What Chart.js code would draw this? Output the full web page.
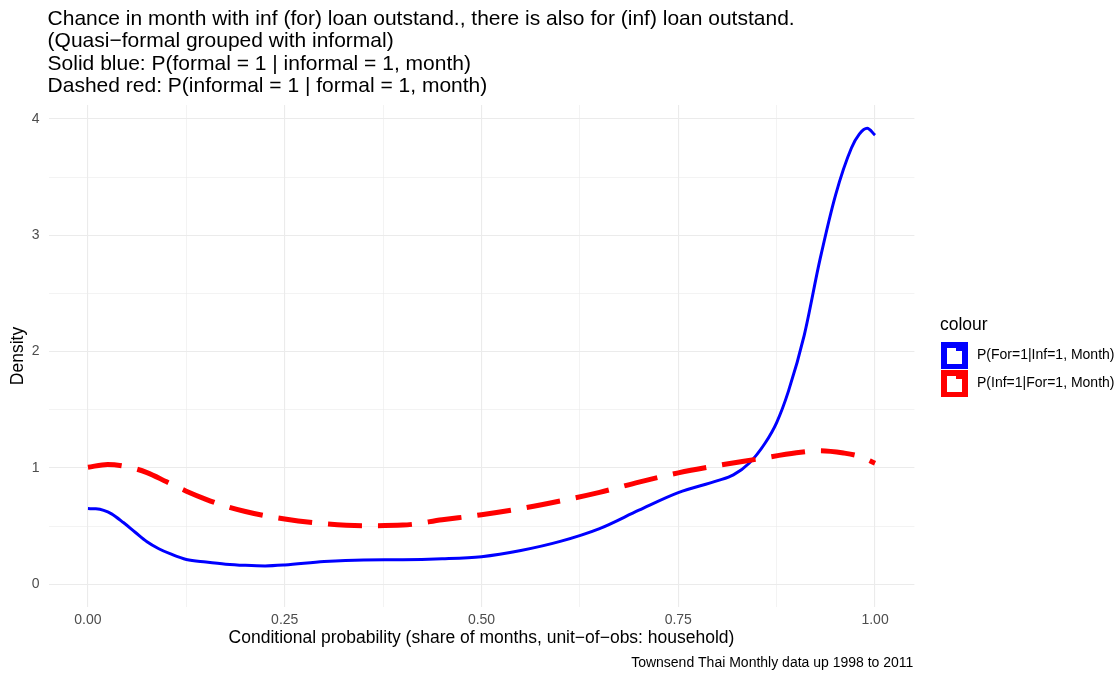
<!DOCTYPE html>
<html>
<head>
<meta charset="utf-8">
<script src="https://cdn.jsdelivr.net/npm/chart.js@4.4.1/dist/chart.umd.min.js"></script>
<style>
  html, body { margin: 0; padding: 0; background: #ffffff; }
  #wrap { width: 1120px; height: 675px; position: relative; }
</style>
</head>
<body>
<div id="wrap"><canvas id="c" width="1120" height="675"></canvas></div>
<script>
// Header text
const titleLines = [
  "Chance in month with inf (for) loan outstand., there is also for (inf) loan outstand.",
  "(Quasi\u2212formal grouped with informal)",
  "Solid blue: P(formal = 1 | informal = 1, month)",
  "Dashed red: P(informal = 1 | formal = 1, month)"
];
const xTitle = "Conditional probability (share of months, unit\u2212of\u2212obs: household)";
const yTitle = "Density";
const caption = "Townsend Thai Monthly data up 1998 to 2011";
const legendTitle = "colour";
const seriesNames = ["P(For=1|Inf=1, Month)", "P(Inf=1|For=1, Month)"];

// Density of P(For=1 | Inf=1, Month)  (solid blue)
const blueX = [0, 0.01, 0.02, 0.03, 0.045, 0.06, 0.075, 0.09, 0.105, 0.125, 0.15, 0.175, 0.2, 0.225, 0.25, 0.3, 0.35, 0.4, 0.45, 0.5,
               0.55, 0.6, 0.65, 0.7, 0.75, 0.8, 0.82, 0.84, 0.86, 0.875, 0.89, 0.91, 0.93, 0.95, 0.97, 0.98, 0.99, 1.0];
const blueY = [0.65, 0.648, 0.635, 0.605, 0.53, 0.447, 0.365, 0.305, 0.26, 0.212, 0.19, 0.172, 0.162, 0.157, 0.165, 0.195, 0.209, 0.21, 0.218, 0.237,
               0.29, 0.368, 0.478, 0.636, 0.787, 0.89, 0.94, 1.04, 1.21, 1.39, 1.66, 2.14, 2.79, 3.35, 3.75, 3.87, 3.92, 3.86];

// Density of P(Inf=1 | For=1, Month)  (dashed red)
const redX = [0, 0.025, 0.05, 0.075, 0.1, 0.125, 0.15, 0.175, 0.2, 0.25, 0.3, 0.35, 0.4, 0.45, 0.5,
              0.55, 0.6, 0.65, 0.7, 0.75, 0.8, 0.85, 0.9, 0.93, 0.96, 0.98, 1.0];
const redY = [1.005, 1.03, 1.01, 0.96, 0.88, 0.80, 0.73, 0.67, 0.625, 0.56, 0.52, 0.503, 0.508, 0.554, 0.597,
              0.65, 0.716, 0.79, 0.878, 0.957, 1.02, 1.075, 1.13, 1.148, 1.128, 1.1, 1.04];

// Axis ticks (labelled majors plus unlabelled minor grid positions)
const xMajorTicks = [0, 0.25, 0.5, 0.75, 1];
const xTickLabels = ["0.00", "0.25", "0.50", "0.75", "1.00"];
const xMinorTicks = [0.125, 0.375, 0.625, 0.875];
const yMajorTicks = [0, 1, 2, 3, 4];
const yTickLabels = ["0", "1", "2", "3", "4"];
const yMinorTicks = [0.5, 1.5, 2.5, 3.5];

const BLUE = "#0000FF";
const RED = "#FF0000";
const GRID = "#EBEBEB";
const FONT = "'Liberation Sans', Arial, Helvetica, sans-serif";

const toPoints = (xs, ys) => xs.map((x, i) => ({ x: x, y: ys[i] }));

function mergedTicks(major, minor) {
  return major.concat(minor).sort((a, b) => a - b).map(v => ({ value: v }));
}
function labelFor(value, major, labels) {
  const i = major.findIndex(m => Math.abs(m - value) < 1e-9);
  return i >= 0 ? labels[i] : "";
}
function isMajor(value, major) {
  return major.some(m => Math.abs(m - value) < 1e-9);
}

// Titles, caption, axis titles and legend drawn around the plot panel
const decorations = {
  id: "decorations",
  afterDraw(chart) {
    const ctx = chart.ctx;
    const area = chart.chartArea;
    ctx.save();
    ctx.fillStyle = "#000000";
    ctx.textBaseline = "middle";

    ctx.font = "21px " + FONT;
    ctx.textAlign = "left";
    titleLines.forEach((t, i) => ctx.fillText(t, area.left - 1, 19 + i * 22.4));

    ctx.font = "17.5px " + FONT;
    ctx.textAlign = "center";
    ctx.fillText(xTitle, (area.left + area.right) / 2, 638);

    ctx.save();
    ctx.translate(18, (area.top + area.bottom) / 2);
    ctx.rotate(-Math.PI / 2);
    ctx.fillText(yTitle, 0, 0);
    ctx.restore();

    ctx.font = "14px " + FONT;
    ctx.textAlign = "right";
    ctx.fillText(caption, area.right - 1, 663);

    // legend
    ctx.textAlign = "left";
    ctx.font = "17.5px " + FONT;
    ctx.fillText(legendTitle, 940, 325);
    const colors = [BLUE, RED];
    const tops = [342, 370];
    ctx.font = "14px " + FONT;
    colors.forEach((col, i) => {
      const x0 = 941, y0 = tops[i], w = 27, h = 27;
      ctx.fillStyle = col;
      ctx.fillRect(x0, y0, w, h);
      ctx.fillStyle = "#ffffff";
      ctx.fillRect(x0 + 6, y0 + 6, w - 12, h - 11);
      ctx.fillStyle = col;
      ctx.fillRect(x0 + 15, y0 + 6, 6, 3);
      ctx.fillStyle = "#000000";
      ctx.fillText(seriesNames[i], 977, y0 + 13.5);
    });
    ctx.restore();
  }
};

const chart = new Chart(document.getElementById("c"), {
  type: "line",
  data: {
    datasets: [
      {
        label: seriesNames[1],
        data: toPoints(redX, redY),
        borderColor: RED,
        borderWidth: 5,
        borderDash: [34, 16],
        borderCapStyle: "butt",
        pointRadius: 0,
        fill: false,
        cubicInterpolationMode: "monotone",
        order: 0
      },
      {
        label: seriesNames[0],
        data: toPoints(blueX, blueY),
        borderColor: BLUE,
        borderWidth: 3,
        pointRadius: 0,
        fill: false,
        cubicInterpolationMode: "monotone",
        order: 1
      }
    ]
  },
  options: {
    responsive: false,
    devicePixelRatio: 1,
    animation: false,
    events: [],
    layout: { padding: { left: 28.6, right: 205.6, top: 105, bottom: 48 } },
    plugins: {
      legend: { display: false },
      title: { display: false },
      tooltip: { enabled: false }
    },
    scales: {
      x: {
        type: "linear",
        min: -0.05,
        max: 1.05,
        afterBuildTicks(scale) { scale.ticks = mergedTicks(xMajorTicks, xMinorTicks); },
        afterFit(scale) { scale.height = 20; },
        border: { display: false },
        grid: {
          drawTicks: false,
          color: GRID,
          lineWidth: c => (c.tick && isMajor(c.tick.value, xMajorTicks)) ? 1.1 : 0.6
        },
        ticks: {
          autoSkip: false,
          maxRotation: 0,
          padding: 5,
          color: "#4D4D4D",
          font: { family: FONT, size: 14 },
          callback: v => labelFor(v, xMajorTicks, xTickLabels)
        }
      },
      y: {
        type: "linear",
        min: -0.196,
        max: 4.12,
        afterBuildTicks(scale) { scale.ticks = mergedTicks(yMajorTicks, yMinorTicks); },
        afterFit(scale) { scale.width = 20; },
        border: { display: false },
        grid: {
          drawTicks: false,
          color: GRID,
          lineWidth: c => (c.tick && isMajor(c.tick.value, yMajorTicks)) ? 1.1 : 0.6
        },
        ticks: {
          autoSkip: false,
          padding: 9,
          color: "#4D4D4D",
          font: { family: FONT, size: 14 },
          callback: v => labelFor(v, yMajorTicks, yTickLabels)
        }
      }
    }
  },
  plugins: [decorations]
});
</script>
</body>
</html>
